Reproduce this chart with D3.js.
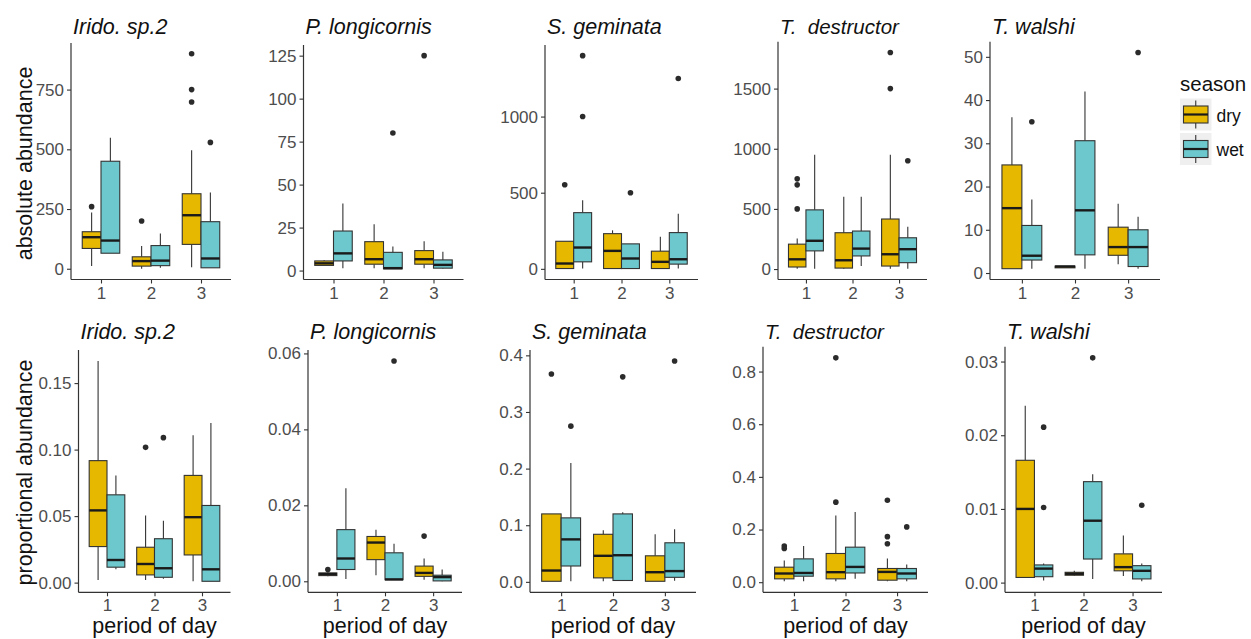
<!DOCTYPE html>
<html>
<head>
<meta charset="utf-8">
<script src="https://cdn.jsdelivr.net/npm/d3@7"></script>
<style>
  html, body { margin: 0; padding: 0; background: #ffffff; }
  svg { display: block; font-family: "Liberation Sans", Arial, sans-serif; }
</style>
</head>
<body>
<svg id="chart" width="1251" height="639"></svg>
<script>
// ---------------- data ----------------
const periods = ["1", "2", "3"];
const seasons = ["dry", "wet"];
const speciesNames = ["Irido. sp.2", "P. longicornis", "S. geminata", "T.  destructor", "T. walshi"];

// each row: [period, season, lowerWhisker, q1, median, q3, upperWhisker, outliers]
const iridoAbs = [
  ["1", "dry", 11, 85, 132, 155, 235, [260]],
  ["1", "wet", 65, 65, 118, 450, 548, []],
  ["2", "dry", 0, 11, 32, 50, 95, [200]],
  ["2", "wet", 4, 13, 34, 97, 148, []],
  ["3", "dry", 6, 102, 224, 314, 496, [900, 750, 698]],
  ["3", "wet", 4, 4, 43, 197, 319, [529]]
];
const plonAbs = [
  ["1", "dry", 3, 3, 4.2, 5.6, 6, []],
  ["1", "wet", 1.4, 5.6, 10, 23, 39, []],
  ["2", "dry", 1.4, 3.7, 6.6, 16.8, 27, []],
  ["2", "wet", 1, 1, 1.4, 10.6, 14, [80]],
  ["3", "dry", 1.4, 3.7, 6.6, 11.6, 17, [125]],
  ["3", "wet", 1, 1.4, 3.3, 6.2, 11, []]
];
const sgemAbs = [
  ["1", "dry", 0, 2, 35, 181, 181, [552]],
  ["1", "wet", 2, 46, 140, 369, 450, [1400, 1000]],
  ["2", "dry", 0, 2, 118, 231, 253, []],
  ["2", "wet", 2, 2, 68, 164, 164, [500]],
  ["3", "dry", 0, 2, 46, 116, 210, []],
  ["3", "wet", 2, 31, 63, 238, 362, [1250]]
];
const tdesAbs = [
  ["1", "dry", 3, 17, 81, 207, 254, [750, 700, 500]],
  ["1", "wet", 3, 151, 235, 492, 950, []],
  ["2", "dry", 3, 8, 73, 302, 600, []],
  ["2", "wet", 25, 109, 170, 316, 600, []],
  ["3", "dry", 3, 25, 123, 416, 950, [1800, 1500]],
  ["3", "wet", 3, 53, 165, 260, 352, [900]]
];
const twalAbs = [
  ["1", "dry", 1, 1, 15, 25, 36, []],
  ["1", "wet", 1, 3, 4, 11, 17, [35]],
  ["2", "dry", 1.2, 1.2, 1.5, 1.6, 1.6, []],
  ["2", "wet", 1, 4.2, 14.5, 30.6, 42, []],
  ["3", "dry", 2, 4.1, 6, 10.6, 16, []],
  ["3", "wet", 1, 1.5, 6, 10, 13, [51]]
];
const iridoProp = [
  ["1", "dry", 0.002, 0.0271, 0.0543, 0.0917, 0.1666, []],
  ["1", "wet", 0.01, 0.0116, 0.017, 0.066, 0.0806, []],
  ["2", "dry", 0.002, 0.0058, 0.014, 0.0266, 0.0505, [0.1017]],
  ["2", "wet", 0.003, 0.004, 0.0108, 0.033, 0.0465, [0.109]],
  ["3", "dry", 0.001, 0.0208, 0.0492, 0.0806, 0.1107, []],
  ["3", "wet", 0.001, 0.001, 0.01, 0.058, 0.12, []]
];
const plonProp = [
  ["1", "dry", 0.0013, 0.0015, 0.0019, 0.0022, 0.0024, [0.0031]],
  ["1", "wet", 0.0006, 0.0031, 0.006, 0.0136, 0.0245, []],
  ["2", "dry", 0.0016, 0.0057, 0.0102, 0.0118, 0.0136, []],
  ["2", "wet", 0.0004, 0.0004, 0.0005, 0.0075, 0.0099, [0.058]],
  ["3", "dry", 0.0004, 0.0013, 0.0022, 0.004, 0.006, [0.0119]],
  ["3", "wet", 0, 0.0001, 0.0011, 0.0016, 0.0031, []]
];
const sgemProp = [
  ["1", "dry", 0.001, 0.001, 0.02, 0.12, 0.12, [0.367]],
  ["1", "wet", 0.001, 0.028, 0.075, 0.113, 0.21, [0.275]],
  ["2", "dry", 0.001, 0.007, 0.046, 0.084, 0.091, []],
  ["2", "wet", 0.0024, 0.0024, 0.047, 0.12, 0.123, [0.362]],
  ["3", "dry", 0.001, 0.001, 0.017, 0.046, 0.084, []],
  ["3", "wet", 0.002, 0.008, 0.019, 0.069, 0.093, [0.39]]
];
const tdesProp = [
  ["1", "dry", 0.004, 0.0127, 0.033, 0.057, 0.082, [0.137, 0.128]],
  ["1", "wet", 0.004, 0.0228, 0.035, 0.0886, 0.137, []],
  ["2", "dry", 0.004, 0.0127, 0.038, 0.109, 0.253, [0.304, 0.852]],
  ["2", "wet", 0.013, 0.035, 0.058, 0.133, 0.267, []],
  ["3", "dry", 0.004, 0.0076, 0.039, 0.052, 0.09, [0.311, 0.173, 0.146]],
  ["3", "wet", 0.004, 0.0127, 0.033, 0.052, 0.067, [0.21]]
];
const twalProp = [
  ["1", "dry", 0.0007, 0.0007, 0.01, 0.0166, 0.024, []],
  ["1", "wet", 0.0003, 0.0008, 0.0019, 0.0024, 0.0026, [0.0211, 0.0102]],
  ["2", "dry", 0.0009, 0.001, 0.0012, 0.0014, 0.0016, []],
  ["2", "wet", 0.0005, 0.0032, 0.0084, 0.0137, 0.0147, [0.0305]],
  ["3", "dry", 0.0009, 0.0016, 0.0021, 0.0039, 0.0064, []],
  ["3", "wet", 0.0002, 0.0005, 0.0016, 0.0023, 0.0026, [0.0105]]
];

// tick values and labels
const iridoAbsTicks = [0, 250, 500, 750];
const iridoAbsLabels = ["0", "250", "500", "750"];
const plonAbsTicks = [0, 25, 50, 75, 100, 125];
const plonAbsLabels = ["0", "25", "50", "75", "100", "125"];
const sgemAbsTicks = [0, 500, 1000];
const sgemAbsLabels = ["0", "500", "1000"];
const tdesAbsTicks = [0, 500, 1000, 1500];
const tdesAbsLabels = ["0", "500", "1000", "1500"];
const twalAbsTicks = [0, 10, 20, 30, 40, 50];
const twalAbsLabels = ["0", "10", "20", "30", "40", "50"];
const iridoPropTicks = [0, 0.05, 0.10, 0.15];
const iridoPropLabels = ["0.00", "0.05", "0.10", "0.15"];
const plonPropTicks = [0, 0.02, 0.04, 0.06];
const plonPropLabels = ["0.00", "0.02", "0.04", "0.06"];
const sgemPropTicks = [0, 0.1, 0.2, 0.3, 0.4];
const sgemPropLabels = ["0.0", "0.1", "0.2", "0.3", "0.4"];
const tdesPropTicks = [0, 0.2, 0.4, 0.6, 0.8];
const tdesPropLabels = ["0.0", "0.2", "0.4", "0.6", "0.8"];
const twalPropTicks = [0, 0.01, 0.02, 0.03];
const twalPropLabels = ["0.00", "0.01", "0.02", "0.03"];

const yLabels = ["absolute abundance", "proportional abundance"];
const xLabel = "period of day";
const legendTitle = "season";

// ---------------- styling / layout ----------------
const fillColor = { dry: "#E7B800", wet: "#6CC8CD" };
const boxStroke = "#333333";

// panel plot areas [left, right, top, bottom]
const panels = [
  { data: iridoAbs, ticks: iridoAbsTicks, labels: iridoAbsLabels, title: speciesNames[0], rect: [71, 231, 43, 279.5] },
  { data: plonAbs, ticks: plonAbsTicks, labels: plonAbsLabels, title: speciesNames[1], rect: [303.5, 463.5, 45, 279.5] },
  { data: sgemAbs, ticks: sgemAbsTicks, labels: sgemAbsLabels, title: speciesNames[2], rect: [545, 698, 45, 279.5] },
  { data: tdesAbs, ticks: tdesAbsTicks, labels: tdesAbsLabels, title: speciesNames[3], rect: [778, 927, 41.7, 279.5] },
  { data: twalAbs, ticks: twalAbsTicks, labels: twalAbsLabels, title: speciesNames[4], rect: [990, 1160, 41.7, 279.5] },
  { data: iridoProp, ticks: iridoPropTicks, labels: iridoPropLabels, title: speciesNames[0], rect: [78.5, 230.5, 350, 592.3] },
  { data: plonProp, ticks: plonPropTicks, labels: plonPropLabels, title: speciesNames[1], rect: [308, 462, 350, 592.3] },
  { data: sgemProp, ticks: sgemPropTicks, labels: sgemPropLabels, title: speciesNames[2], rect: [530, 696, 350, 592.3] },
  { data: tdesProp, ticks: tdesPropTicks, labels: tdesPropLabels, title: speciesNames[3], rect: [763, 928, 346.7, 592.3] },
  { data: twalProp, ticks: twalPropTicks, labels: twalPropLabels, title: speciesNames[4], rect: [1005, 1162, 346.7, 592.3] }
];

const svg = d3.select("#chart");

panels.forEach((p, i) => {
  const [L, R, T, B] = p.rect;
  const row = i < 5 ? 0 : 1;
  const g = svg.append("g");

  // y domain: data range expanded by 5%
  const vals = [];
  p.data.forEach(d => { vals.push(d[2], d[6]); d[7].forEach(o => vals.push(o)); });
  const lo = d3.min(vals), hi = d3.max(vals);
  const pad = (hi - lo) * 0.05;
  const y = d3.scaleLinear().domain([lo - pad, hi + pad]).range([B, T]);

  const x = d3.scalePoint().domain(periods).range([L, R]).padding(0.6);
  const step = x.step();
  const dodge = d3.scaleBand().domain(seasons).range([-0.375 * step, 0.375 * step]).padding(0);
  const bw = dodge.bandwidth();

  // boxes
  p.data.forEach(d => {
    const [per, sea, lw, q1, med, q3, uw, outs] = d;
    const cx = x(per) + dodge(sea) + bw / 2;
    const bg = g.append("g");
    bg.append("line").attr("x1", cx).attr("x2", cx).attr("y1", y(q3)).attr("y2", y(uw))
      .attr("stroke", boxStroke).attr("stroke-width", 1.1);
    bg.append("line").attr("x1", cx).attr("x2", cx).attr("y1", y(q1)).attr("y2", y(lw))
      .attr("stroke", boxStroke).attr("stroke-width", 1.1);
    bg.append("rect").attr("x", x(per) + dodge(sea)).attr("width", bw)
      .attr("y", y(q3)).attr("height", Math.max(0.5, y(q1) - y(q3)))
      .attr("fill", fillColor[sea]).attr("stroke", boxStroke).attr("stroke-width", 1.1);
    bg.append("line").attr("x1", x(per) + dodge(sea)).attr("x2", x(per) + dodge(sea) + bw)
      .attr("y1", y(med)).attr("y2", y(med))
      .attr("stroke", "#1a1a1a").attr("stroke-width", 2.4);
    outs.forEach(o => {
      bg.append("circle").attr("cx", cx).attr("cy", y(o)).attr("r", 2.8).attr("fill", "#2b2b2b");
    });
  });

  // axes
  const yAxis = d3.axisLeft(y).tickValues(p.ticks)
    .tickFormat((v, k) => p.labels[k]).tickSizeOuter(0).tickSize(4).tickPadding(3);
  const ya = g.append("g").attr("transform", `translate(${L},0)`).call(yAxis);
  const xAxis = d3.axisBottom(x).tickSizeOuter(0).tickSize(4).tickPadding(3);
  const xa = g.append("g").attr("transform", `translate(0,${B})`).call(xAxis);
  [ya, xa].forEach(a => {
    a.select(".domain").attr("stroke", "#333333").attr("stroke-width", 1.2);
    a.selectAll(".tick line").attr("stroke", "#333333").attr("stroke-width", 1.1);
    a.selectAll(".tick text").attr("fill", "#4D4D4D").attr("font-size", 17)
      .attr("font-family", "'Liberation Sans', Arial, sans-serif");
  });
  // extend y axis line down to the x-axis corner
  ya.select(".domain").attr("d", `M0,${T}V${B}`);
  xa.select(".domain").attr("d", `M${L},0H${R}`);

  // panel title
  g.append("text").attr("x", L + 2).attr("y", row === 0 ? 33.5 : 339)
    .attr("font-size", i % 5 === 3 ? 20.5 : 21.5).attr("font-style", "italic")
    .attr("fill", "#111").style("white-space", "pre")
    .text(p.title);

  // x label (bottom row)
  if (row === 1) {
    g.append("text").attr("x", (L + R) / 2).attr("y", 633)
      .attr("text-anchor", "middle").attr("font-size", 21.5).attr("fill", "#111")
      .text(xLabel);
  }
  // y label (first column)
  if (i % 5 === 0) {
    const cy = row === 0 ? 163.5 : 472.5;
    g.append("text").attr("transform", `translate(31.5,${cy}) rotate(-90)`)
      .attr("text-anchor", "middle").attr("font-size", 21.5).attr("fill", "#111")
      .text(yLabels[row]);
  }
});

// ---------------- legend ----------------
const lg = svg.append("g");
lg.append("text").attr("x", 1180).attr("y", 91).attr("font-size", 20.5).attr("fill", "#111").text(legendTitle);
seasons.forEach((s, k) => {
  const top = 98.5 + k * 34.5;
  lg.append("rect").attr("x", 1180).attr("y", top).attr("width", 31.5).attr("height", 32).attr("fill", "#EFEFEF");
  const cx = 1180 + 31.5 / 2;
  lg.append("line").attr("x1", cx).attr("x2", cx).attr("y1", top + 2).attr("y2", top + 30)
    .attr("stroke", boxStroke).attr("stroke-width", 1.1);
  lg.append("rect").attr("x", 1183.5).attr("y", top + 7.5).attr("width", 24.5).attr("height", 17)
    .attr("fill", fillColor[s]).attr("stroke", boxStroke).attr("stroke-width", 1.1);
  lg.append("line").attr("x1", 1183.5).attr("x2", 1208).attr("y1", top + 16).attr("y2", top + 16)
    .attr("stroke", "#1a1a1a").attr("stroke-width", 2.2);
  lg.append("text").attr("x", 1216.5).attr("y", top + 23).attr("font-size", 17.5).attr("fill", "#111").text(s);
});
</script>
</body>
</html>
